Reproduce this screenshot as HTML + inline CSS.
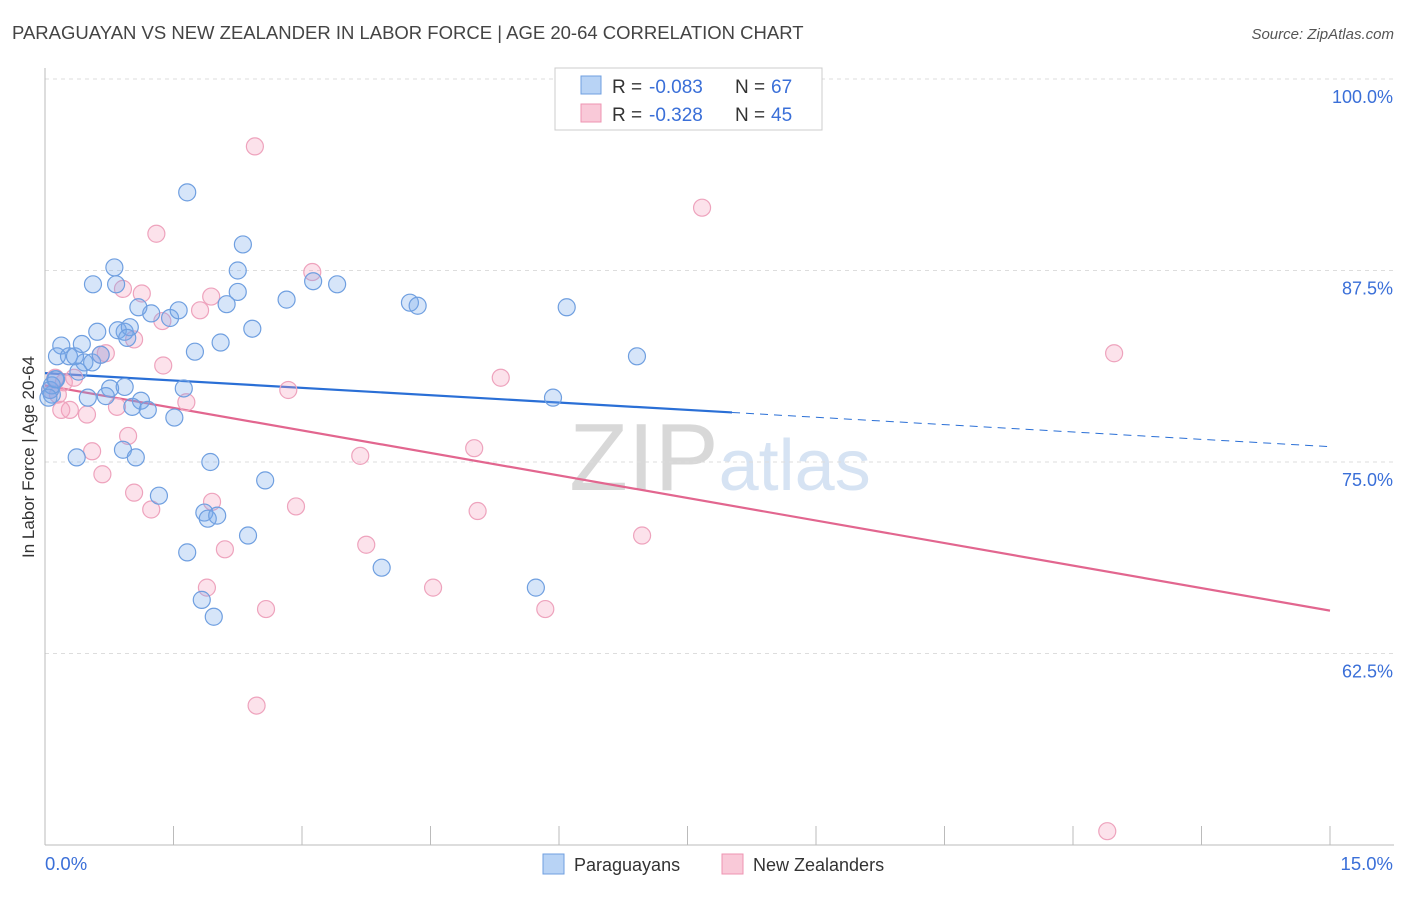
<!DOCTYPE html>
<html><head><meta charset="utf-8"><style>
body{margin:0;background:#fff;font-family:"Liberation Sans",sans-serif}
svg text{font-family:"Liberation Sans",sans-serif}
</style></head><body>
<svg id="chart" width="1406" height="892" xmlns="http://www.w3.org/2000/svg">
<text x="12" y="39" font-size="18.5" fill="#444">PARAGUAYAN VS NEW ZEALANDER IN LABOR FORCE | AGE 20-64 CORRELATION CHART</text>
<text x="1394" y="39" font-size="15" fill="#555" text-anchor="end" font-style="italic">Source: ZipAtlas.com</text>
<text x="720" y="490" font-size="96" text-anchor="middle" fill="#ddd" font-family="Liberation Serif"><tspan fill="#d8d8d8">ZIP</tspan><tspan fill="#d6e3f3" font-family="Liberation Sans" font-size="72">atlas</tspan></text>
<g id="grid"></g><g id="axes"></g><g id="lines"></g><g id="points"></g>
<text transform="translate(34,457) rotate(-90)" font-size="17" fill="#333" text-anchor="middle">In Labor Force | Age 20-64</text>
<g>
<rect x="555" y="68" width="267" height="62" fill="#fff" stroke="#ccc"/>
<rect x="581" y="76" width="20" height="18" fill="#b8d3f5" stroke="#6f9fe0"/>
<rect x="581" y="104" width="20" height="18" fill="#f9c9d8" stroke="#ee94b2"/>
<text x="612" y="93" font-size="19" fill="#333">R =</text>
<text x="649" y="93" font-size="19" fill="#3a6fd8">-0.083</text>
<text x="735" y="93" font-size="19" fill="#333">N =</text>
<text x="771" y="93" font-size="19" fill="#3a6fd8">67</text>
<text x="612" y="121" font-size="19" fill="#333">R =</text>
<text x="649" y="121" font-size="19" fill="#3a6fd8">-0.328</text>
<text x="735" y="121" font-size="19" fill="#333">N =</text>
<text x="771" y="121" font-size="19" fill="#3a6fd8">45</text>
</g>
<g>
<rect x="543" y="854" width="21" height="20" fill="#b8d3f5" stroke="#6f9fe0"/>
<text x="574" y="871" font-size="18" fill="#333">Paraguayans</text>
<rect x="722" y="854" width="21" height="20" fill="#f9c9d8" stroke="#ee94b2"/>
<text x="753" y="871" font-size="18" fill="#333">New Zealanders</text>
</g>
</svg>
<script>
const yTicks=[100,87.5,75,62.5];
const yTickLabels=["100.0%","87.5%","75.0%","62.5%"];
const xTickCount=10;
const blueX=[1.66,2.31,0.81,2.25,0.56,0.83,2.25,2.82,3.13,3.41,4.26,4.35,6.09,2.12,1.09,1.24,1.46,1.56,0.61,0.93,0.85,0.99,0.96,2.42,2.05,1.75,6.91,0.19,0.14,0.28,0.46,0.35,0.55,0.43,0.65,0.39,0.12,0.08,0.06,0.50,0.76,0.93,0.71,1.12,1.02,1.20,1.51,1.62,5.93,0.37,0.91,1.06,1.93,2.57,1.33,1.86,1.90,2.01,2.37,1.66,3.93,5.73,1.83,1.97,0.08,0.04,0.13];
const blueY=[92.6,89.2,87.7,87.5,86.6,86.6,86.1,85.6,86.8,86.6,85.4,85.2,85.1,85.3,85.1,84.7,84.4,84.9,83.5,83.5,83.6,83.8,83.1,83.7,82.8,82.2,81.9,82.6,81.9,81.9,81.5,81.9,81.5,82.7,82.0,80.9,80.4,79.4,79.7,79.2,79.8,79.9,79.3,79.0,78.6,78.4,77.9,79.8,79.2,75.3,75.8,75.3,75.0,73.8,72.8,71.7,71.3,71.5,70.2,69.1,68.1,66.8,66.0,64.9,80.0,79.2,80.4];
const pinkX=[2.45,7.67,1.30,3.12,0.91,1.13,1.94,1.81,1.37,1.04,0.71,0.65,1.38,2.84,5.32,12.48,1.65,0.12,0.22,0.34,0.29,0.19,0.49,0.84,0.97,0.55,0.67,5.01,3.68,1.04,1.24,1.95,2.93,5.05,6.97,3.75,2.10,1.89,4.53,2.58,5.84,2.47,12.40,0.06,0.15];
const pinkY=[95.6,91.6,89.9,87.4,86.3,86.0,85.8,84.9,84.2,83.0,82.1,82.0,81.3,79.7,80.5,82.1,78.9,80.5,80.2,80.5,78.4,78.4,78.1,78.6,76.7,75.7,74.2,75.9,75.4,73.0,71.9,72.4,72.1,71.8,70.2,69.6,69.3,66.8,66.8,65.4,65.4,59.1,50.9,79.7,79.4];
const blueTrend=[80.8,76.0]; const blueSolidEnd=8.02;
const pinkTrend=[80.0,65.3];
const X0=45,X1=1330,Y0=845,Y1=79;
const sx=v=>X0+(v/15)*(X1-X0);
const sy=v=>Y0-((v-50)/50)*(Y0-Y1);
const NS="http://www.w3.org/2000/svg";
function mk(p,t,a){const e=document.createElementNS(NS,t);for(const k in a)e.setAttribute(k,a[k]);p.appendChild(e);return e;}
const grid=document.getElementById('grid'),axes=document.getElementById('axes'),lines=document.getElementById('lines'),pts=document.getElementById('points');
yTicks.forEach((t,i)=>{const l=mk(grid,'line',{x1:X0,x2:1394,y1:sy(t),y2:sy(t),stroke:'#ddd','stroke-dasharray':'4,4'});


const tx=mk(axes,'text',{x:1393,y:sy(t)+24,'font-size':18,fill:'#3a6fd8','text-anchor':'end'});tx.textContent=yTickLabels[i];

});
const ax=mk(axes,'line',{x1:X0,x2:1394,y1:Y0,y2:Y0,stroke:'#bbb'});


const ay=mk(axes,'line',{x1:X0,x2:X0,y1:68,y2:Y0,stroke:'#bbb'});


for(let i=0;i<=xTickCount;i++){const x=X0+i*(X1-X0)/xTickCount;const t=mk(axes,'line',{x1:x,x2:x,y1:Y0,y2:826,stroke:'#bbb'});

}
const l0=mk(axes,'text',{x:45,y:870,'font-size':18.5,fill:'#3a6fd8'});l0.textContent='0.0%';


const l1=mk(axes,'text',{x:1393,y:870,'font-size':18.5,fill:'#3a6fd8','text-anchor':'end'});l1.textContent='15.0%';


function dots(X,Y,fill,stroke,name){X.forEach((x,i)=>{const c=mk(pts,'circle',{cx:sx(x),cy:sy(Y[i]),r:8.5,fill:fill,stroke:stroke,'stroke-width':1.2});

});}
dots(pinkX,pinkY,'rgba(244,160,190,0.3)','#eea3bd','newzealander-point');
dots(blueX,blueY,'rgba(120,170,235,0.3)','#6f9fe0','paraguayan-point');
const by=x=>blueTrend[0]+(blueTrend[1]-blueTrend[0])*x/15;
const b1=mk(lines,'line',{x1:sx(0),y1:sy(by(0)),x2:sx(blueSolidEnd),y2:sy(by(blueSolidEnd)),stroke:'#2a6fd6','stroke-width':2.2});


const b2=mk(lines,'line',{x1:sx(blueSolidEnd),y1:sy(by(blueSolidEnd)),x2:sx(15),y2:sy(by(15)),stroke:'#2a6fd6','stroke-width':1,'stroke-dasharray':'8,6'});


const p1=mk(lines,'line',{x1:sx(0),y1:sy(pinkTrend[0]),x2:sx(15),y2:sy(pinkTrend[1]),stroke:'#e2668f','stroke-width':2.2});


</script>
</body></html>
